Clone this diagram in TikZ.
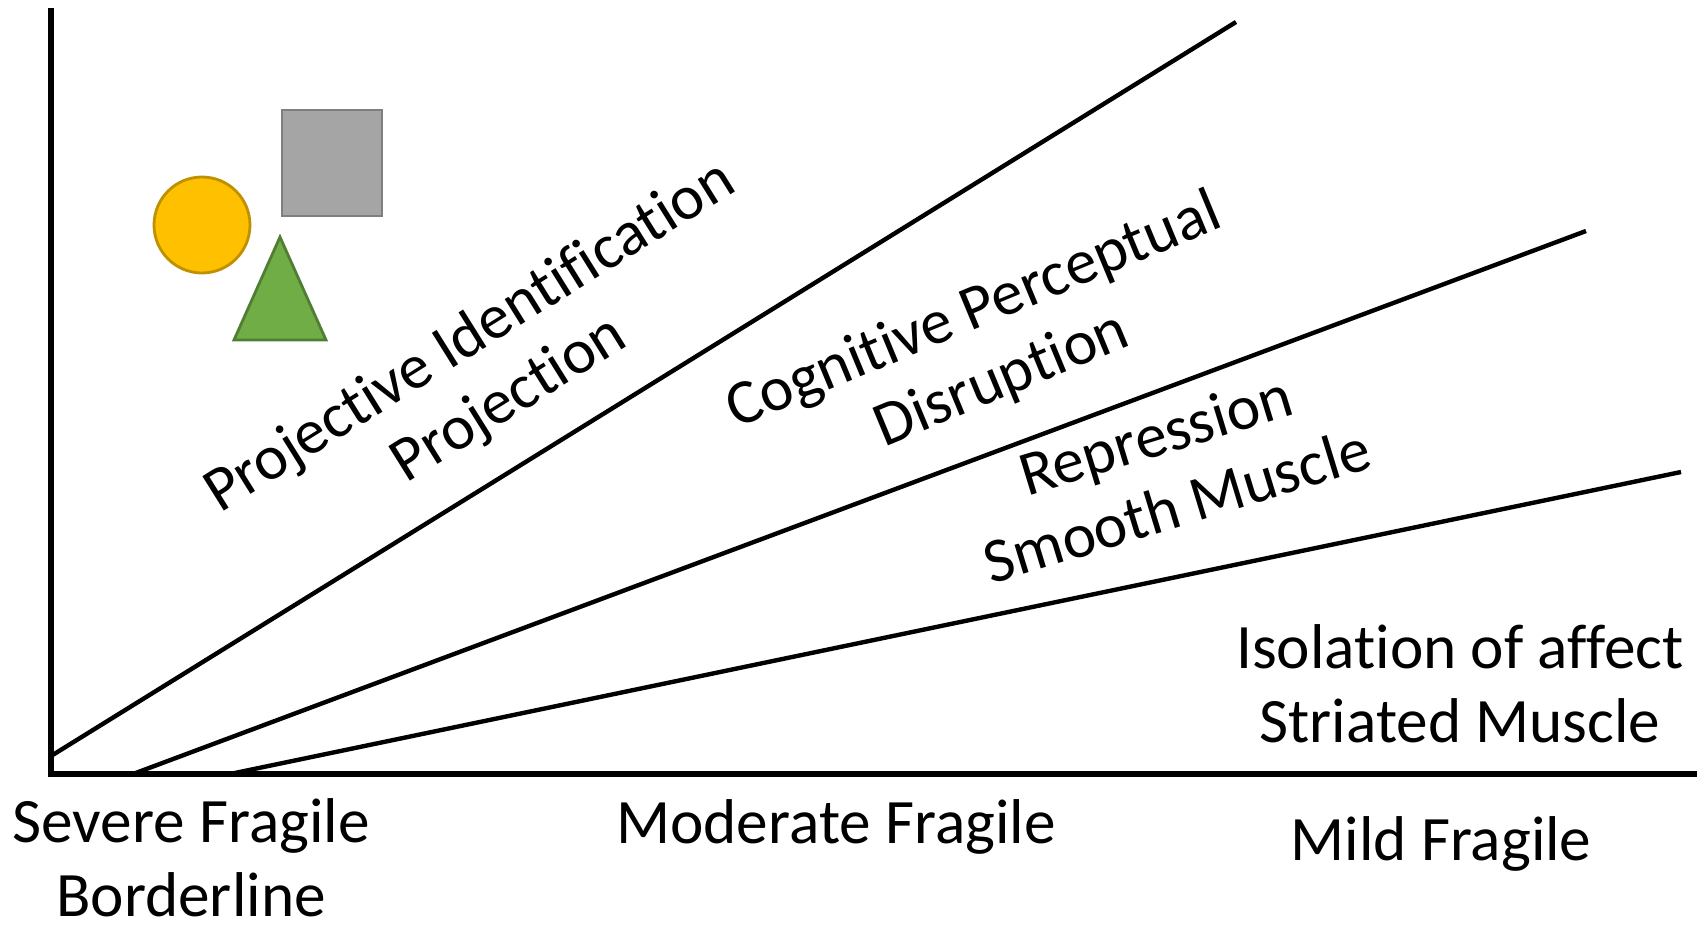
\documentclass[tikz,border=0pt]{standalone}
\usepackage{fontspec}
\setmainfont{Carlito}[Ligatures={NoCommon,NoContextual,NoRequired}, RawFeature={-liga;-clig;-calt;-dlig}]
\usepackage{tikz}
\definecolor{circlegold}{RGB}{255, 192, 0}
\definecolor{circlegoldedge}{RGB}{191, 144, 0}
\definecolor{squaregray}{RGB}{165, 165, 165}
\definecolor{squaregrayedge}{RGB}{127, 127, 127}
\definecolor{trianglegreen}{RGB}{112, 173, 71}
\definecolor{trianglegreenedge}{RGB}{80, 126, 50}

\begin{document}
\begin{tikzpicture}[
      axis/.style={
          draw=black, line width=1.45pt
      },
      ray/.style={
          draw=black, line width=1.25pt
      },
      zonetext/.style={
          inner sep=0pt, align=center,
          font=\fontsize{18}{21}\selectfont
      },
      shapeedge/.style={
          line width=0.8pt
      }
  ]
      \useasboundingbox (0,0) rectangle (17.06,9.26);

      % Axes
      \coordinate (origin) at (0.51, 1.52);
      \coordinate (ytop) at (0.51, 9.18);
      \coordinate (xend) at (16.97, 1.52);
      \draw[axis] (ytop) -- (origin) -- (xend);

      % Rayons
      \coordinate (r1start) at (0.51, 1.70);
      \coordinate (r1end) at (12.36, 9.04);
      \coordinate (r2start) at (1.33, 1.52);
      \coordinate (r2end) at (15.86, 6.95);
      \coordinate (r3start) at (2.30, 1.52);
      \coordinate (r3end) at (16.81, 4.54);
      \draw[ray] (r1start) -- (r1end);
      \draw[ray] (r2start) -- (r2end);
      \draw[ray] (r3start) -- (r3end);

      % Formes
      \node[circle, shapeedge, draw=circlegoldedge, fill=circlegold, minimum size=0.96cm, inner sep=0pt] (circ) at (2.02, 7.01) {};
      \node[rectangle, shapeedge, draw=squaregrayedge, fill=squaregray, minimum width=1.0cm, minimum height=1.06cm, inner sep=0pt] (sq) at (3.32, 7.63) {};
      \filldraw[shapeedge, draw=trianglegreenedge, fill=trianglegreen] (2.34, 5.86) -- (3.26, 5.86) -- (2.80, 6.89) -- cycle;

      % Zones
      \node[zonetext, rotate=32] (proj) at (4.90, 5.57) {Projective Identification\\Projection};
      \node[zonetext, rotate=22.5] (cog) at (9.88, 5.80) {Cognitive Perceptual\\Disruption};
      \node[zonetext, rotate=17] (rep) at (11.66, 4.56) {Repression\\Smooth Muscle};
      \node[zonetext] (iso) at (14.60, 2.42) {Isolation of affect\\Striated Muscle};

      % Echelle
      \node[zonetext] (severe) at (1.91, 0.68) {Severe Fragile\\Borderline};
      \node[zonetext, anchor=base] (moderate) at (8.36, 0.83) {Moderate Fragile};
      \node[zonetext, anchor=base] (mild) at (14.41, 0.66) {Mild Fragile};
  \end{tikzpicture}
\end{document}
